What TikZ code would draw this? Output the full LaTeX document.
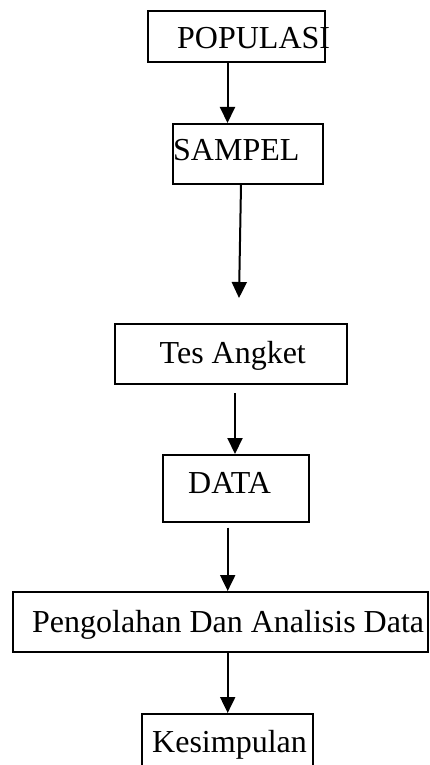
\documentclass[tikz,border=0pt]{standalone}
\usepackage{fontspec}
\setmainfont{Liberation Serif}
\usetikzlibrary{arrows.meta}
\begin{document}
\begin{tikzpicture}[x=1pt,y=-1pt,
  boxst/.style={draw=black,line width=2pt,inner sep=0pt,rectangle},
  lbl/.style={anchor=base west,inner sep=0pt,font=\fontsize{32}{38}\selectfont},
  arr/.style={draw=black,line width=2pt,-{Triangle[width=15pt,length=16pt]}}]
\useasboundingbox (0,0) rectangle (430,765);
\begin{scope}
\clip (0,0) rectangle (430,765);
% boxes
\node[boxst,minimum width=177pt,minimum height=51pt] (pop) at (236.5,36.5) {};
\node[boxst,minimum width=149.4pt,minimum height=60pt] (sam) at (248,154) {};
\node[boxst,minimum width=231.7pt,minimum height=60pt] (tes) at (230.85,354) {};
\node[boxst,minimum width=146.3pt,minimum height=66.7pt] (dat) at (235.85,488.35) {};
\node[boxst,minimum width=415pt,minimum height=60pt] (peng) at (220.2,622) {};
\node[boxst,minimum width=171.3pt,minimum height=60pt] (kes) at (227.35,744) {};
% labels
\node[lbl] (tpop) at (177,49) {POPULASI};
\node[lbl] (tsam) at (173,160.5) {SAMPEL};
\node[lbl] (ttes) at (159.5,363) {Tes Angket};
\node[lbl] (tdat) at (188,493) {DATA};
\node[lbl] (tpeng) at (32,632) {Pengolahan Dan Analisis Data};
\node[lbl] (tkes) at (152,752.5) {Kesimpulan};
% helper coordinates
\coordinate (x1) at (227.5,0);
\coordinate (x2) at (241,0);
\coordinate (e2) at (239,298);
\coordinate (s3) at (235,393);
\coordinate (x4) at (227.7,0);
% connectors
\draw[arr] (pop.south -| x1) -- (sam.north -| x1);
\draw[arr] (sam.south -| x2) -- (e2);
\draw[arr] (s3) -- (dat.north -| s3);
\draw[arr] ([yshift=-5pt]dat.south -| x4) -- (peng.north -| x4);
\draw[arr] (peng.south -| x4) -- (kes.north -| x4);
\end{scope}
\end{tikzpicture}
\end{document}
